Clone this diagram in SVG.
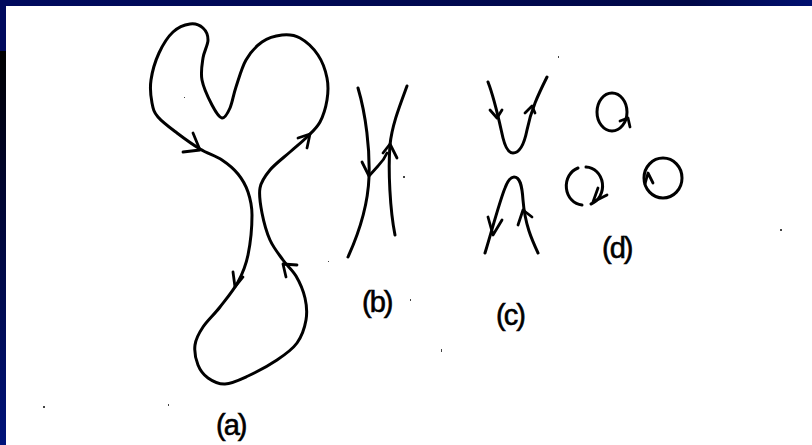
<svg xmlns="http://www.w3.org/2000/svg" width="812" height="445" viewBox="0 0 812 445">
<defs>
<linearGradient id="lg" x1="0" y1="0" x2="0" y2="1">
<stop offset="0" stop-color="#000000"/>
<stop offset="0.35" stop-color="#000530"/>
<stop offset="1" stop-color="#00137a"/>
</linearGradient>
<linearGradient id="tg" x1="0" y1="0" x2="1" y2="0">
<stop offset="0" stop-color="#000a5e"/>
<stop offset="0.85" stop-color="#000848"/>
<stop offset="1" stop-color="#001070"/>
</linearGradient>
<style>
.ln{fill:none;stroke:#000;stroke-width:3;stroke-linecap:round;stroke-linejoin:round}
.ar{fill:none;stroke:#000;stroke-width:2.8;stroke-linecap:round;stroke-linejoin:round}
.lb{font-family:"Liberation Sans",Arial,sans-serif;font-size:29px;letter-spacing:-2px;fill:#000;stroke:#000;stroke-width:0.6}
.sp{fill:#444}
</style>
</defs>
<rect x="0" y="0" width="812" height="445" fill="#000a5e"/>
<rect x="0" y="0" width="812" height="6" fill="url(#tg)"/>
<rect x="0" y="51" width="6" height="394" fill="url(#lg)"/>
<rect x="6" y="6" width="806" height="439" fill="#ffffff"/>

<g id="a">
<path class="ln" d="M222,118 C219,117.5 215.3,111.3 212,105 S203.5,87.8 202,80 S202,64.7 203,58 S208,45 208,40 S206,30.7 203,28 S195,23.3 190,24 S178.2,27.2 173,32 S162.7,45 159,53 S152.2,71.7 151,80 S150.8,96.8 152,103 S153.8,112 158,117 S170,127.7 177,133 S192.5,144.5 200,149 S215.7,155.8 222,160 S233.7,168.7 238,174 S245.7,185.2 248,192 S252,204.5 252,215 S250.3,243.8 248,255 S242.7,273.3 238,282 S225.8,299.5 220,307 S207.2,320.7 203,327 S195.8,338.7 195,345 S195.8,359.5 198,365 S203.5,374.8 208,378 S218.3,384.3 225,384 S239.3,380 248,376 S268.8,365.5 277,360 S292.2,349.7 297,343 S304.7,327.5 306,320 S306.7,305.3 305,298 S299.7,282.3 296,276 S287.3,266 283,260 S273.5,247.8 270,240 S263.7,221.7 262,213 S258.7,195.2 260,188 S265,176 270,170 S283.8,157.5 290,152 S302,142 307,137 S316.7,128.2 320,122 S325.8,107.3 327,100 S328.5,85.5 327,78 S322.5,61.7 318,55 S306,41.3 300,38 S288.3,34.3 282,35 S268,37.8 262,42 S250.3,52.5 246,60 S238.7,79 236,87 S232.3,102.8 230,108 S225,118.5 222,118 Z"/>
<path class="ar" d="M193,133 L200,150 L183,152"/>
<path class="ar" d="M298,138 L310,134 L307,148"/>
<path class="ar" d="M233,272 L235,287 L243,277"/>
<path class="ar" d="M297,265 L283,264 L286,277"/>
<text class="lb" x="216" y="435">(a)</text>
</g>

<g id="b">
<path class="ln" d="M358,88 C366,115 370,150 369,177 C368,205 358,235 348,257"/>
<path class="ln" d="M407,86 C400,105 392,125 390,145 C388,170 390,210 395,235"/>
<path class="ar" d="M362,162 L369,176 L378,166 Q384,160 387,153"/>
<path class="ar" d="M383,153 L390,144 L397,158"/>
<text class="lb" x="362" y="312">(b)</text>
</g>

<g id="c">
<path class="ln" d="M488,82 C495,100 500,125 503,138 C506,150 510,153 513,153 C520,153 524,145 527,130 C531,110 538,95 547,77"/>
<path class="ar" d="M490,110 L497,118 L502,110"/>
<path class="ar" d="M525,113 L532,106 L535,113"/>
<path class="ln" d="M485,253 C492,230 500,200 505,188 C508,180 511,177 514,177 C520,177 522,185 523,200 C525,225 532,240 538,253"/>
<path class="ar" d="M488,217 L493,235 L502,220"/>
<path class="ar" d="M518,225 L523,210 L532,217"/>
<text class="lb" x="496" y="325">(c)</text>
</g>

<g id="d">
<ellipse class="ln" cx="612" cy="112" rx="15" ry="19"/>
<path class="ar" d="M620,121 L628,118 L630,127"/>
<path class="ln" d="M578,168 A17,19 0 0 0 582,205"/>
<path class="ln" d="M586,167 A17,19 0 0 1 591,204"/>
<path class="ar" d="M598,188 L593,202 L607,195"/>
<ellipse class="ln" cx="663" cy="178" rx="19" ry="20"/>
<path class="ar" d="M645,184 L648,173 L653,183"/>
<text class="lb" x="602" y="258">(d)</text>
</g>

<g id="specks">
<rect class="sp" x="43" y="406" width="2" height="2"/>
<rect class="sp" x="780" y="229" width="2" height="2"/>
<rect class="sp" x="558" y="56" width="1" height="2"/>
<rect class="sp" x="184" y="97" width="1" height="1"/>
<rect class="sp" x="403" y="176" width="2" height="2"/>
<rect class="sp" x="410" y="299" width="1" height="2"/>
<rect class="sp" x="328" y="261" width="1" height="1"/>
<rect class="sp" x="441" y="349" width="1" height="3"/>
<rect class="sp" x="168" y="404" width="1" height="2"/>
</g>
</svg>
